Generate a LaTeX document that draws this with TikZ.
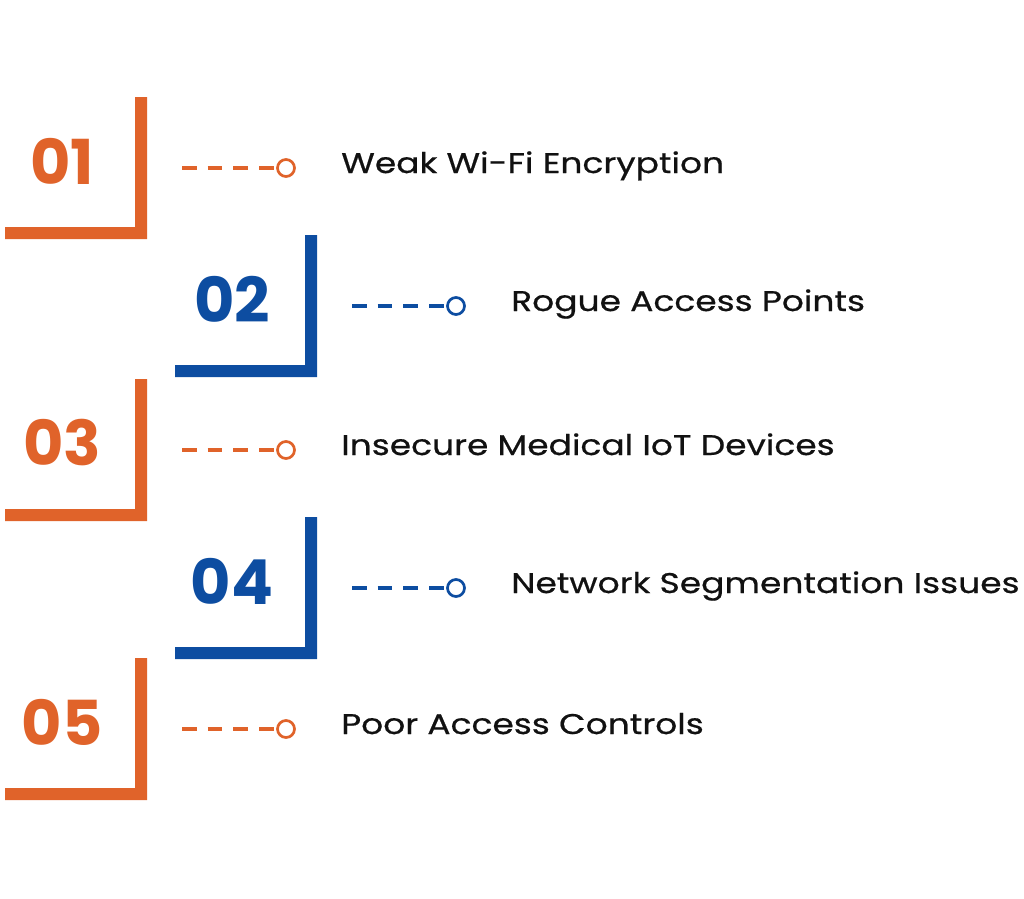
\documentclass[tikz,border=0pt]{standalone}
\usepackage{fontspec}
\setmainfont{Poppins}
\newfontfamily\labfont{Poppins}[FakeStretch=1.21,FakeBold=0.6]
\definecolor{orng}{HTML}{E0632A}
\definecolor{blu}{HTML}{0D4DA1}
\definecolor{txt}{HTML}{111111}
\begin{document}
\begin{tikzpicture}[x=1pt,y=-1pt,
  numstyle/.style={font=\bfseries\fontsize{62}{62}\selectfont, inner sep=0pt},
  dotstyle/.style={circle, line width=2.7pt, minimum size=17pt, inner sep=0pt, fill=white},
  dashline/.style={line width=3.2pt, dash pattern=on 14.5pt off 11.2pt},
  labstyle/.style={anchor=base west, font=\labfont\fontsize{28.5}{28.5}\selectfont, text=txt, inner sep=0pt}]
\useasboundingbox (0,0) rectangle (1024,898);
\foreach \t/\c/\dx/\n/\l [count=\i] in {
  97/orng/0/01/Weak Wi-Fi Encryption,
  235/blu/170/02/Rogue Access Points,
  379/orng/0/03/Insecure Medical IoT Devices,
  517/blu/170/04/Network Segmentation Issues,
  658/orng/0/05/Poor Access Controls}{
  \fill[\c] (5+\dx,\t+130) -- (135+\dx,\t+130) -- (135+\dx,\t) -- (147+\dx,\t)
     -- (147+\dx,\t+142) -- (5+\dx,\t+142) -- cycle;
  \node[numstyle, text=\c] (num\i) at (62+\dx,\t+64) {\n};
  \node[dotstyle, draw=\c] (dot\i) at (286+\dx,\t+71) {};
  \coordinate (start\i) at (182+\dx,\t+71);
  \draw[dashline, \c] (start\i) -- (dot\i);
  \node[labstyle] (lab\i) at (341+\dx,\t+76) {\l};
}
\end{tikzpicture}
\end{document}
